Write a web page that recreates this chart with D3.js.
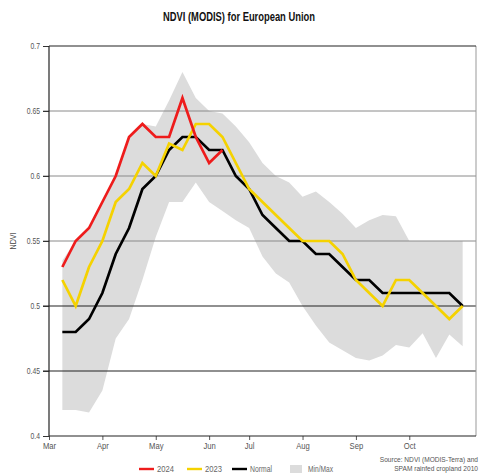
<!DOCTYPE html>
<html>
<head>
<meta charset="utf-8">
<script src="https://cdn.jsdelivr.net/npm/d3@7"></script>
<style>
  html, body { margin: 0; padding: 0; background: #fff; }
  svg { display: block; }
  text { font-family: "Liberation Sans Narrow", "Arial Narrow", "Liberation Sans", Arial, sans-serif; }
</style>
</head>
<body>
<svg id="chart" width="481" height="474"></svg>
<script>
// 8-day composite periods along the season (period index on the x axis)
const periods = [1, 2, 3, 4, 5, 6, 7, 8, 9, 10, 11, 12, 13, 14, 15, 16,
                 17, 18, 19, 20, 21, 22, 23, 24, 25, 26, 27, 28, 29, 30, 31];

const ndvi2024 = [0.53, 0.55, 0.56, 0.58, 0.60, 0.63, 0.64, 0.63, 0.63, 0.66, 0.63, 0.61, 0.62];

const ndvi2023 = [0.52, 0.50, 0.53, 0.55, 0.58, 0.59, 0.61, 0.60, 0.625, 0.62, 0.64, 0.64, 0.63,
                  0.61, 0.59, 0.58, 0.57, 0.56, 0.55, 0.55, 0.55, 0.54, 0.52, 0.51, 0.50,
                  0.52, 0.52, 0.51, 0.50, 0.49, 0.50];

const ndviNormal = [0.48, 0.48, 0.49, 0.51, 0.54, 0.56, 0.59, 0.60, 0.62, 0.63, 0.63, 0.62, 0.62,
                    0.60, 0.59, 0.57, 0.56, 0.55, 0.55, 0.54, 0.54, 0.53, 0.52, 0.52, 0.51,
                    0.51, 0.51, 0.51, 0.51, 0.51, 0.50];

const ndviMax = [0.535, 0.55, 0.56, 0.58, 0.60, 0.63, 0.64, 0.638, 0.658, 0.68, 0.66, 0.65, 0.648,
                 0.638, 0.626, 0.61, 0.60, 0.595, 0.584, 0.588, 0.58, 0.571, 0.56, 0.566, 0.57,
                 0.569, 0.55, 0.55, 0.55, 0.55, 0.55];

const ndviMin = [0.42, 0.42, 0.418, 0.435, 0.475, 0.49, 0.52, 0.553, 0.58, 0.58, 0.595, 0.58, 0.573,
                 0.566, 0.56, 0.538, 0.525, 0.518, 0.50, 0.485, 0.472, 0.466, 0.46, 0.458, 0.462,
                 0.47, 0.468, 0.479, 0.46, 0.478, 0.469];

// month labels and the period index where each month begins
const monthLabels = ["Mar", "Apr", "May", "Jun", "Jul", "Aug", "Sep", "Oct"];
const monthStarts = [0, 4, 8, 12, 15, 19, 23, 27];

const yTicks = [0.4, 0.45, 0.5, 0.55, 0.6, 0.65, 0.7];
const yTickLabels = ["0.4", "0.45", "0.5", "0.55", "0.6", "0.65", "0.7"];

const seriesNames = ["2024", "2023", "Normal", "Min/Max"];
const seriesColors = ["#ee1c1c", "#f5d200", "#000000", "#dcdcdc"];

const svg = d3.select("#chart");
const plotLeft = 49, plotRight = 476, plotTop = 46, plotBottom = 436;

const x = d3.scaleLinear().domain([0, 32]).range([plotLeft, plotRight]);
const y = d3.scaleLinear().domain([0.4, 0.7]).range([plotBottom, plotTop]);

// squeeze a text element to a narrow face of the given width
const narrow = (sel, w) => sel.attr("textLength", w).attr("lengthAdjust", "spacingAndGlyphs");

// title
svg.append("text")
  .attr("x", 239).attr("y", 21)
  .attr("text-anchor", "middle")
  .attr("font-size", 12).attr("font-weight", "bold").attr("fill", "#111")
  .text("NDVI (MODIS) for European Union")
  .call(narrow, 152);

// min/max envelope
const band = periods.map((p, i) => ({ p, lo: ndviMin[i], hi: ndviMax[i] }));
svg.append("path")
  .datum(band)
  .attr("fill", seriesColors[3])
  .attr("d", d3.area().x(d => x(d.p)).y0(d => y(d.lo)).y1(d => y(d.hi)));

// horizontal grid lines
svg.append("g").selectAll("line")
  .data(yTicks.filter(v => v > 0.4 && v < 0.7))
  .join("line")
  .attr("x1", plotLeft - 6).attr("x2", plotRight)
  .attr("y1", d => y(d)).attr("y2", d => y(d))
  .attr("stroke", d => (d <= 0.5 ? "#222" : "#8a8a8a"))
  .attr("stroke-width", d => (d <= 0.5 ? 1.1 : 1));

// y axis
const yAxis = svg.append("g")
  .attr("transform", `translate(${plotLeft},0)`)
  .call(d3.axisLeft(y).tickValues(yTicks).tickFormat((d, i) => yTickLabels[i]).tickSize(6).tickPadding(3));
yAxis.select(".domain").remove();
yAxis.selectAll("line").attr("stroke", "#333");
yAxis.selectAll("text")
  .attr("font-family", "Liberation Sans Narrow, Arial Narrow, sans-serif")
  .attr("font-size", 8.5).attr("fill", "#555")
  .each(function () { narrow(d3.select(this), this.getComputedTextLength() * 0.8); });

// x axis with month ticks
const xAxis = svg.append("g")
  .attr("transform", `translate(0,${plotBottom})`)
  .call(d3.axisBottom(x).tickValues(monthStarts).tickFormat((d, i) => monthLabels[i]).tickSize(4).tickPadding(3));
xAxis.select(".domain").remove();
xAxis.selectAll("line").attr("stroke", "#555");
xAxis.selectAll("text")
  .attr("font-family", "Liberation Sans Narrow, Arial Narrow, sans-serif")
  .attr("font-size", 9).attr("fill", "#555")
  .each(function () { narrow(d3.select(this), this.getComputedTextLength() * 0.85); });

// plot frame
svg.append("line").attr("x1", plotRight).attr("x2", plotRight).attr("y1", plotTop).attr("y2", plotBottom)
  .attr("stroke", "#999").attr("stroke-width", 1);
svg.append("line").attr("x1", plotLeft).attr("x2", plotRight).attr("y1", plotTop).attr("y2", plotTop)
  .attr("stroke", "#222").attr("stroke-width", 1.2);
svg.append("line").attr("x1", plotLeft).attr("x2", plotLeft).attr("y1", plotTop).attr("y2", plotBottom)
  .attr("stroke", "#222").attr("stroke-width", 1.2);
svg.append("line").attr("x1", plotLeft).attr("x2", plotRight).attr("y1", plotBottom).attr("y2", plotBottom)
  .attr("stroke", "#222").attr("stroke-width", 1.2);

// series lines
const line = d3.line().x(d => x(d.p)).y(d => y(d.v));
const toPoints = vals => vals.map((v, i) => ({ p: periods[i], v }));

[[ndviNormal, seriesColors[2]], [ndvi2023, seriesColors[1]], [ndvi2024, seriesColors[0]]]
  .forEach(([vals, color]) => {
    svg.append("path")
      .datum(toPoints(vals))
      .attr("fill", "none")
      .attr("stroke", color)
      .attr("stroke-width", 2.7)
      .attr("stroke-linejoin", "miter")
      .attr("d", line);
  });

// y axis title
svg.append("text")
  .attr("transform", "translate(16,241) rotate(-90)")
  .attr("text-anchor", "middle")
  .attr("font-size", 8.5).attr("fill", "#444")
  .text("NDVI")
  .call(narrow, 17);

// legend
const legendX = [139, 187, 232, 290];
const legendW = [17, 17, 22, 25];
const legend = svg.append("g");
seriesNames.forEach((name, i) => {
  if (i < 3) {
    legend.append("line")
      .attr("x1", legendX[i]).attr("x2", legendX[i] + 15)
      .attr("y1", 469).attr("y2", 469)
      .attr("stroke", seriesColors[i]).attr("stroke-width", 2.4);
  } else {
    legend.append("rect")
      .attr("x", legendX[i]).attr("y", 465)
      .attr("width", 12).attr("height", 8)
      .attr("fill", seriesColors[i]);
  }
  legend.append("text")
    .attr("x", legendX[i] + 18).attr("y", 472)
    .attr("font-size", 8.5).attr("fill", "#666")
    .text(name)
    .call(narrow, legendW[i]);
});

// source note, right-aligned against the plot's right edge
const sourceLines = ["Source: NDVI (MODIS-Terra) and", "SPAM rainfed cropland 2010"];
sourceLines.forEach((txt, i) => {
  svg.append("text")
    .attr("x", 478).attr("y", 462 + i * 8.5)
    .attr("text-anchor", "end")
    .attr("font-size", 6.6).attr("fill", "#555")
    .text(txt);
});
</script>
</body>
</html>
